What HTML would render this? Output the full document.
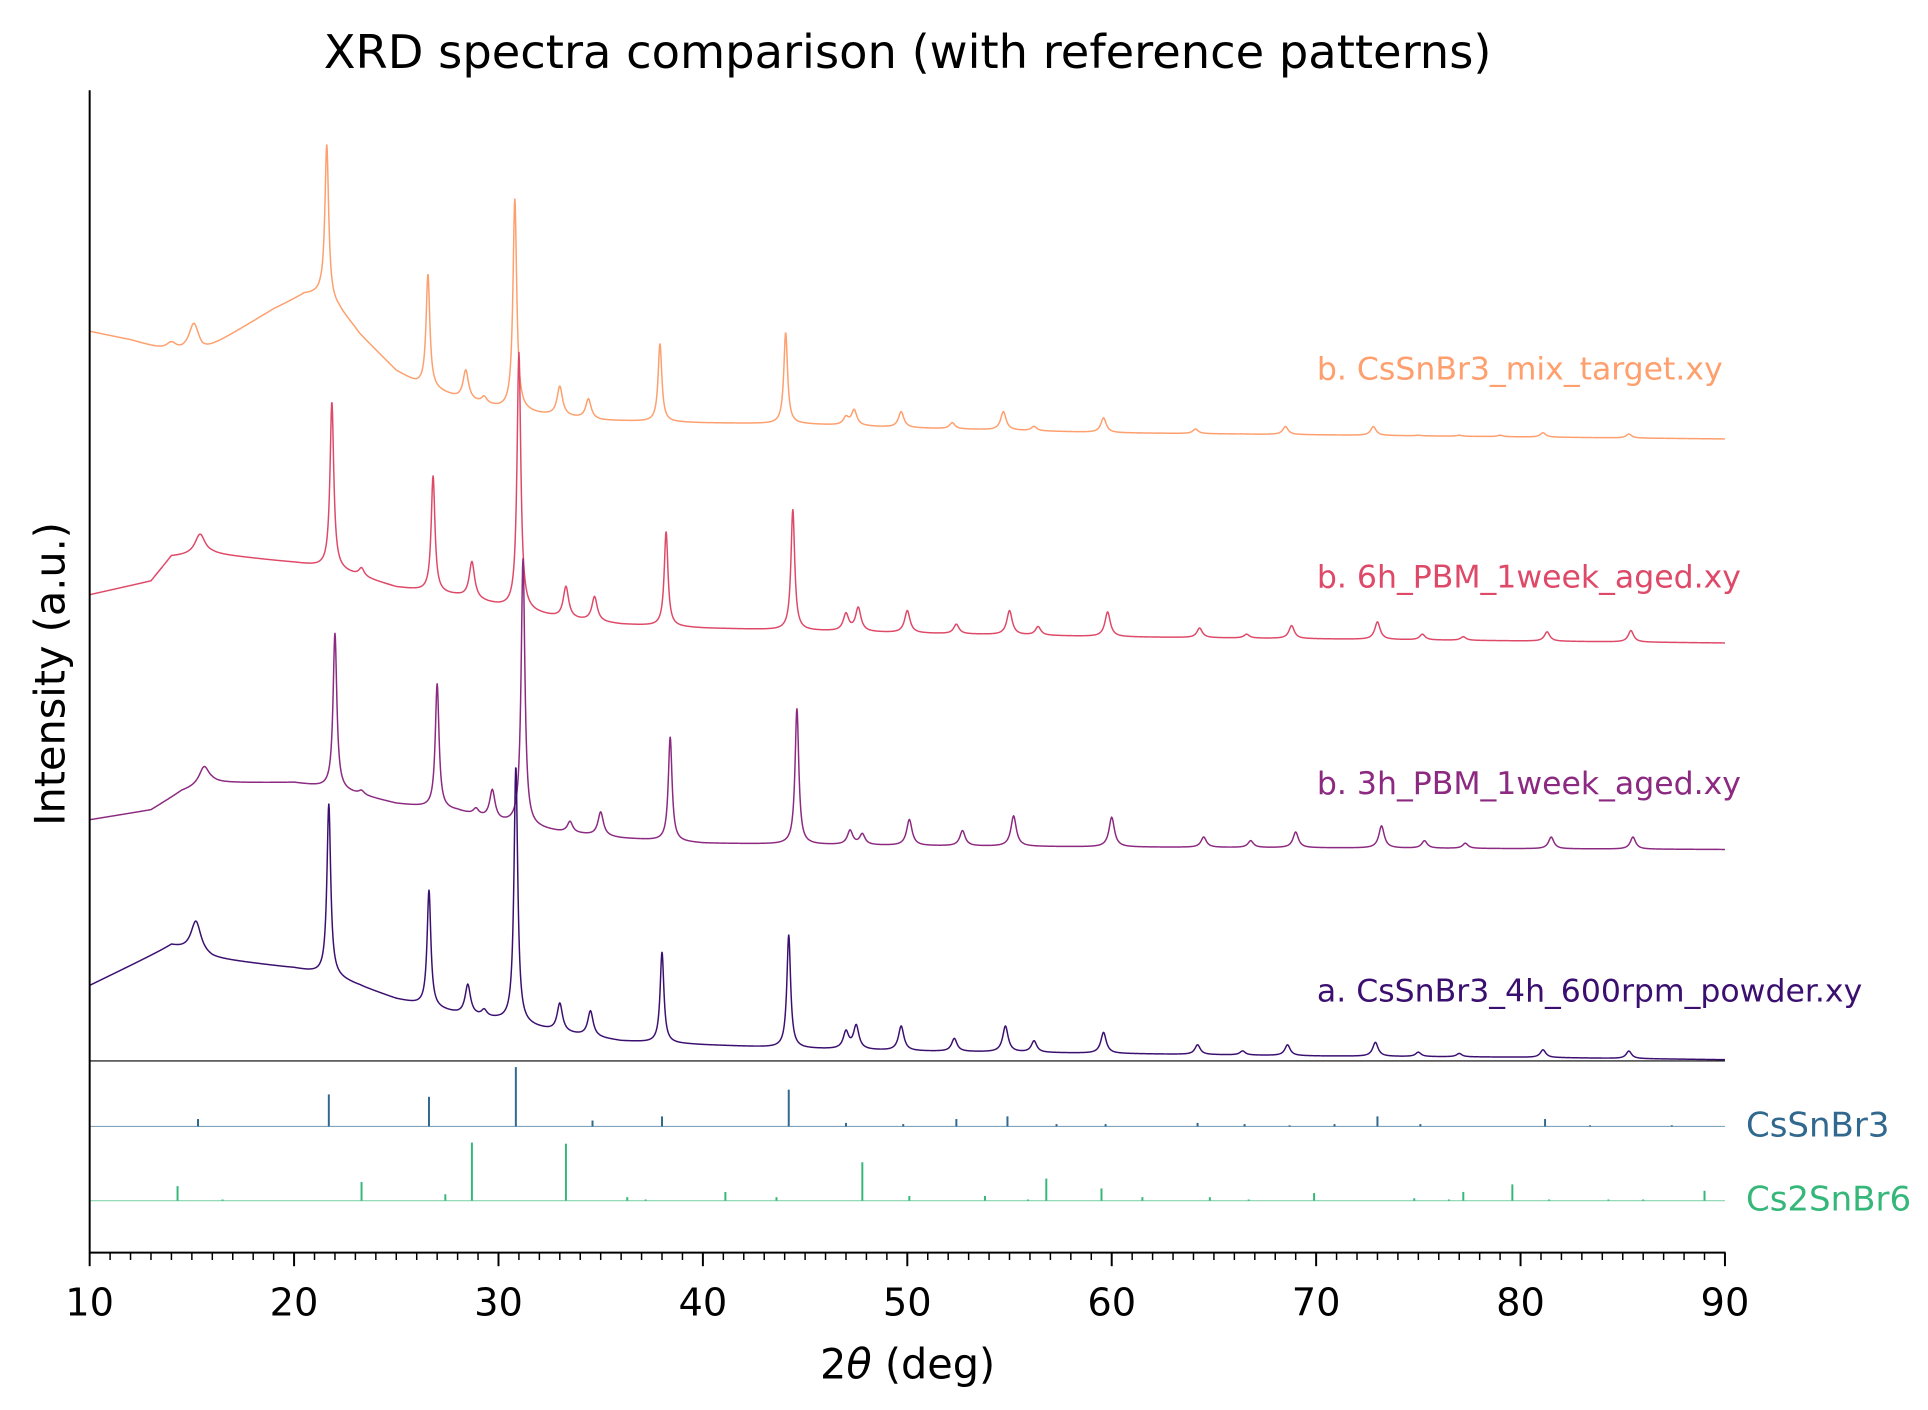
<!DOCTYPE html>
<html><head><meta charset="utf-8"><style>
html,body{margin:0;padding:0;background:#fff;}
svg{display:block;font-family:"DejaVu Sans","Liberation Sans",sans-serif;}
</style></head><body>
<svg id="chart" width="1928" height="1410" viewBox="0 0 1559.2 1140.3" xmlns="http://www.w3.org/2000/svg">
<rect width="1559.2" height="1140.3" fill="#fff"/>
<text x="734" y="55" font-size="37.5" text-anchor="middle">XRD spectra comparison (with reference patterns)</text>
<text transform="translate(52,545) rotate(-90)" font-size="33.5" text-anchor="middle">Intensity (a.u.)</text>
<text x="734" y="1115" font-size="33.5" text-anchor="middle">2<tspan font-style="italic">θ</tspan> (deg)</text>
<g id="series"></g>
<g id="sticks"></g>
<g id="axes"></g>
<g id="labels" font-size="25.5">
<text x="1065" y="307" fill="#fe9f6d">b. CsSnBr3_mix_target.xy</text>
<text x="1065" y="475" fill="#de4968">b. 6h_PBM_1week_aged.xy</text>
<text x="1065" y="642" fill="#8c2981">b. 3h_PBM_1week_aged.xy</text>
<text x="1065" y="810" fill="#3b0f70">a. CsSnBr3_4h_600rpm_powder.xy</text>
<text x="1412" y="919" font-size="27.5" fill="#31688e">CsSnBr3</text>
<text x="1412" y="979" font-size="27.5" fill="#35b779">Cs2SnBr6</text>
</g>
</svg>
<script>
// ---- data (intensity in a.u.) ----
const aBase=[[10,203],[14,235],[16,225],[20,217],[22,210],[25,192],[28,180],[30,175],[33,165],[36,158],[40,155],[45,152],[50,150],[60,148],[70,146],[80,145],[90,143]];
const aPeaks=[[15.2,255],[21.7,350],[23.2,203],[26.6,280],[28.5,203],[29.3,182],[30.85,380],[33.0,188],[34.5,182],[38.0,230],[44.2,244],[47.0,165],[47.5,170],[49.7,170],[52.3,160],[54.8,170],[56.2,158],[59.6,165],[64.2,155],[66.4,150],[68.6,155],[72.9,157],[75,149],[77,148],[81.1,151],[85.3,150]];
const b3Base=[[10,337],[13,345],[14.5,360],[16,367],[20,367],[22,362],[25,350],[28,344],[30,335],[33,327],[36,322],[40,318],[50,316],[60,315],[90,313]];
const b3Peaks=[[15.6,380],[22.0,488],[23.3,360],[27.0,447],[28.9,345],[29.7,360],[31.2,548],[33.5,335],[35.0,343],[38.4,404],[44.6,427],[47.2,328],[47.8,325],[50.1,337],[52.7,328],[55.2,340],[60.0,339],[64.5,323],[66.8,320],[69.0,327],[73.2,332],[75.3,320],[77.3,318],[81.5,323],[85.5,323]];
const b6Base=[[10,519],[13,530],[14,550],[16,552],[20,545],[22,540],[25,525],[28,518],[30,510],[33,500],[36,495],[40,492],[50,488],[60,485],[90,480]];
const b6Peaks=[[15.4,568],[21.85,675],[23.3,540],[26.8,615],[28.7,545],[31.0,715],[33.3,525],[34.7,517],[38.2,570],[44.4,588],[47.0,503],[47.6,508],[50.0,506],[52.4,495],[55.0,506],[56.4,493],[59.8,505],[64.3,492],[66.6,487],[68.8,494],[73.0,497],[75.2,487],[77.2,485],[81.3,489],[85.4,490]];
const mixBase=[[10,732],[12,725],[14,715],[15.5,715],[17,730],[19,750],[20.5,762],[21.3,762],[22.2,750],[23.5,725],[25,700],[26,690],[28,678],[30,670],[32,665],[35,660],[40,658],[45,657],[50,654],[60,650],[90,645]];
const mixPeaks=[[14.0,722],[15.1,738],[21.6,883],[23.2,730],[26.55,778],[28.4,700],[29.3,678],[30.8,839],[33.0,687],[34.4,677],[37.9,722],[44.05,731],[47.0,662],[47.4,668],[49.7,667],[52.2,658],[54.7,667],[56.2,655],[59.6,662],[64.1,653],[66.4,649],[68.5,655],[72.8,655],[75,648],[77,648],[79,648],[81.1,650],[85.3,649]];
const refCsSnBr3Pos=[15.3,21.7,26.6,30.85,34.6,38.0,44.2,47.0,49.8,52.4,54.9,57.3,59.7,64.2,66.5,68.7,70.9,73.0,75.1,81.2,83.4,87.4];
const refCsSnBr3Int=[12.5,54,50,100,10,17,62,6,4,12.5,17,4,4,6,4,2,4,17,4,12.5,2,2];
const refCs2SnBr6Pos=[14.3,16.5,23.3,27.4,28.7,33.3,36.3,37.2,41.1,43.6,47.8,50.1,53.8,55.9,56.8,59.5,61.5,64.8,66.7,69.9,74.8,76.5,77.2,79.6,81.4,84.3,86.0,89.0];
const refCs2SnBr6Int=[25,2,32,11,100,98,6,2,15,6,66,8,8,2,38,21,6,6,2,13,4,2,15,28,2,2,2,17];
const xTicks=[10,20,30,40,50,60,70,80,90];

// ---- axes functions ----
const X0=72.5,X1=1395,XMIN=10,XMAX=90;
const xS=v=>X0+(v-XMIN)/(XMAX-XMIN)*(X1-X0);
const yS=v=>1000-v;
const stickScale=(base,topPx)=>v=>base-v/100*topPx;
const NS="http://www.w3.org/2000/svg";
const mk=(t,at,parent)=>{const e=document.createElementNS(NS,t);for(const k in at)e.setAttribute(k,at[k]);parent.appendChild(e);return e;};

function interp(arr,x){for(let i=0;i<arr.length-1;i++){if(x<=arr[i+1][0]){const t=(x-arr[i][0])/(arr[i+1][0]-arr[i][0]);return arr[i][1]+t*(arr[i+1][1]-arr[i][1]);}}return arr[arr.length-1][1];}
function curve(base,peaks,x){let v=interp(base,x);for(const p of peaks){const amp=p[1]-interp(base,p[0]);const g=amp>60?0.11:(p[0]<17?0.3:0.16);const d=x-p[0];v+=amp*g*g/(d*d+g*g);}return v;}

const sg=document.getElementById('series');
const defs=[[mixBase,mixPeaks,'#fe9f6d','series-mix-target'],[b6Base,b6Peaks,'#de4968','series-6h-aged'],[b3Base,b3Peaks,'#8c2981','series-3h-aged'],[aBase,aPeaks,'#3b0f70','series-4h-powder']];
for(const d of defs){let s='';for(let x=10;x<=90.0001;x+=0.02){s+=(s?'L':'M')+xS(x).toFixed(2)+','+yS(curve(d[0],d[1],x)).toFixed(2);}
const p=mk('path',{d:s,fill:'none',stroke:d[2],'stroke-width':1.2},sg);

}

const stg=document.getElementById('sticks');
function sticks(pos,ints,base,h,color,name){
const ys=stickScale(base,h);
const bl=mk('line',{x1:X0,x2:X1,y1:base,y2:base,stroke:color,'stroke-opacity':0.6,'stroke-width':0.9},stg);


pos.forEach((p,i)=>{const l=mk('line',{x1:xS(p),x2:xS(p),y1:base,y2:ys(ints[i]),stroke:color,'stroke-width':1.6},stg);

});}
sticks(refCsSnBr3Pos,refCsSnBr3Int,911,48,'#31688e','ref-cssnbr3');
sticks(refCs2SnBr6Pos,refCs2SnBr6Int,971,47,'#35b779','ref-cs2snbr6');

const ag=document.getElementById('axes');
let e=mk('line',{x1:72.5,x2:72.5,y1:73,y2:1013,stroke:'#000','stroke-width':1.6},ag);


e=mk('line',{x1:72,x2:1395.5,y1:1013,y2:1013,stroke:'#000','stroke-width':1.6},ag);


e=mk('line',{x1:72.5,x2:1395,y1:858,y2:858,stroke:'#000','stroke-width':0.9},ag);


for(let v=XMIN;v<=XMAX;v++){const major=xTicks.includes(v);
const t=mk('line',{x1:xS(v),x2:xS(v),y1:1013,y2:1013+(major?11:6),stroke:'#000','stroke-width':major?1.6:1.2},ag);

}
xTicks.forEach(v=>{const t=mk('text',{x:xS(v),y:1064,'font-size':31,'text-anchor':'middle'},ag);t.textContent=v;

});
</script>
</body></html>
